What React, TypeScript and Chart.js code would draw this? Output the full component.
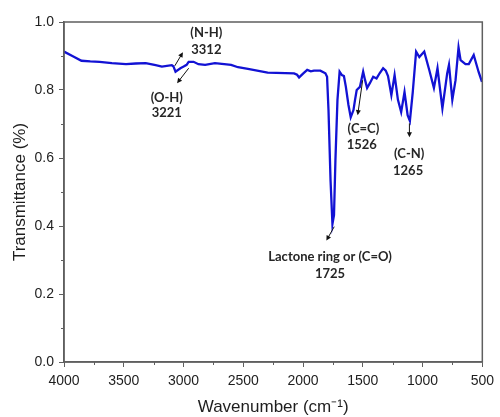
import { useEffect, useRef } from "react";
import { Chart, registerables } from "chart.js";

Chart.register(...registerables);

const wavenumbers = [
  4000, 3930, 3854, 3780, 3702, 3600, 3481, 3400, 3316, 3233, 3181, 3098, 3085, 3067, 3026, 2999,
  2974, 2957, 2916, 2875, 2819, 2737, 2602, 2544, 2461, 2296, 2075, 2050, 2033, 2000, 1965, 1935,
  1909, 1855, 1813, 1799, 1787, 1770, 1754, 1741, 1729, 1712, 1694, 1675, 1658, 1642, 1620, 1601,
  1578, 1565, 1551, 1524, 1497, 1481, 1464, 1441, 1413, 1385, 1358, 1330, 1308, 1289, 1261, 1234,
  1206, 1179, 1151, 1125, 1106, 1082, 1054, 1027, 986, 944, 905, 875, 834, 794, 779, 751,
  724, 699, 682, 641, 613, 572, 531, 503,
];

const transmittance = [
  0.913, 0.9, 0.886, 0.884, 0.883, 0.879, 0.876, 0.878, 0.879, 0.873, 0.869, 0.873, 0.87, 0.854, 0.864, 0.869,
  0.874, 0.883, 0.883, 0.876, 0.874, 0.879, 0.874, 0.867, 0.862, 0.851, 0.849, 0.845, 0.837, 0.848, 0.859, 0.855,
  0.857, 0.857, 0.849, 0.839, 0.741, 0.535, 0.406, 0.432, 0.594, 0.771, 0.854, 0.844, 0.841, 0.81, 0.756, 0.72,
  0.741, 0.771, 0.8, 0.809, 0.854, 0.829, 0.806, 0.82, 0.839, 0.834, 0.85, 0.864, 0.857, 0.841, 0.785, 0.844,
  0.771, 0.735, 0.794, 0.726, 0.709, 0.794, 0.913, 0.897, 0.913, 0.859, 0.806, 0.864, 0.746, 0.849, 0.874, 0.771,
  0.829, 0.925, 0.888, 0.876, 0.876, 0.903, 0.853, 0.824,
];

const xTicks = [4000, 3500, 3000, 2500, 2000, 1500, 1000, 500];
const xMinorTicks = [3750, 3250, 2750, 2250, 1750, 1250, 750];
const yTicks = [0, 0.2, 0.4, 0.6, 0.8, 1.0];
const yMinorTicks = [0.1, 0.3, 0.5, 0.7, 0.9];

// annotation text lines: [text, wavenumber, transmittance]
const noteTexts: [string, number, number][] = [
  ["(N-H)", 2809, 0.968],
  ["3312", 2809, 0.918],
  ["(O-H)", 3140, 0.776],
  ["3221", 3140, 0.732],
  ["Lactone ring or (C=O)", 1774, 0.309],
  ["1725", 1774, 0.259],
  ["(C=C)", 1495, 0.687],
  ["1526", 1509, 0.638],
  ["(C-N)", 1112, 0.612],
  ["1265", 1121, 0.563],
];

// arrows: [fromWn, fromT, toWn, toT]
const noteArrows: [number, number, number, number][] = [
  [3073, 0.871, 3005, 0.911],
  [2957, 0.864, 3054, 0.82],
  [1739, 0.398, 1805, 0.357],
  [1501, 0.829, 1543, 0.726],
  [1110, 0.702, 1110, 0.661],
];

const AXIS = "#5f5f5f";
const TEXT = "#1e1e1e";

const extrasPlugin = {
  id: "extras",
  afterDraw(chart: any) {
    const { ctx, chartArea: a, scales } = chart;
    const x = scales.x;
    const y = scales.y;
    ctx.save();
    ctx.strokeStyle = AXIS;
    ctx.lineWidth = 1.5;
    ctx.strokeRect(a.left, a.top, a.right - a.left, a.bottom - a.top);
    ctx.lineWidth = 1;
    ctx.beginPath();
    for (const v of xMinorTicks) {
      const px = Math.round(x.getPixelForValue(v)) + 0.5;
      ctx.moveTo(px, a.bottom);
      ctx.lineTo(px, a.bottom + 3);
    }
    for (const v of yMinorTicks) {
      const py = Math.round(y.getPixelForValue(v)) + 0.5;
      ctx.moveTo(a.left - 3, py);
      ctx.lineTo(a.left, py);
    }
    ctx.stroke();

    ctx.fillStyle = "#262626";
    ctx.font = "bold 13px Lato, 'Open Sans', sans-serif";
    ctx.textAlign = "center";
    ctx.textBaseline = "middle";
    for (const [t, wn, tr] of noteTexts) {
      ctx.fillText(t, x.getPixelForValue(wn), y.getPixelForValue(tr));
    }

    ctx.strokeStyle = "#111";
    ctx.fillStyle = "#111";
    ctx.lineWidth = 1;
    for (const [w1, t1, w2, t2] of noteArrows) {
      const x1 = x.getPixelForValue(w1);
      const y1 = y.getPixelForValue(t1);
      const x2 = x.getPixelForValue(w2);
      const y2 = y.getPixelForValue(t2);
      const ang = Math.atan2(y2 - y1, x2 - x1);
      const hl = 5;
      const hw = 2.5;
      ctx.beginPath();
      ctx.moveTo(x1, y1);
      ctx.lineTo(x2 - Math.cos(ang) * hl * 0.8, y2 - Math.sin(ang) * hl * 0.8);
      ctx.stroke();
      ctx.beginPath();
      ctx.moveTo(x2, y2);
      ctx.lineTo(
        x2 - Math.cos(ang) * hl + Math.sin(ang) * hw,
        y2 - Math.sin(ang) * hl - Math.cos(ang) * hw
      );
      ctx.lineTo(
        x2 - Math.cos(ang) * hl - Math.sin(ang) * hw,
        y2 - Math.sin(ang) * hl + Math.cos(ang) * hw
      );
      ctx.closePath();
      ctx.fill();
    }
    ctx.restore();
  },
};

export default function App() {
  const ref = useRef<HTMLCanvasElement | null>(null);

  useEffect(() => {
    if (!ref.current) return;
    const points = wavenumbers.map((w, i) => ({ x: w, y: transmittance[i] }));
    const chart = new Chart(ref.current, {
      type: "line",
      data: {
        datasets: [
          {
            data: points,
            borderColor: "#1212d4",
            borderWidth: 2.3,
            pointRadius: 0,
            tension: 0,
            fill: false,
          },
        ],
      },
      plugins: [extrasPlugin],
      options: {
        animation: false,
        responsive: false,
        maintainAspectRatio: false,
        layout: { padding: { top: 22, right: 13, left: 0, bottom: 0 } },
        plugins: { legend: { display: false }, tooltip: { enabled: false } },
        scales: {
          x: {
            type: "linear",
            min: 500,
            max: 4000,
            reverse: true,
            afterBuildTicks: (s: any) => {
              s.ticks = xTicks.map((v) => ({ value: v }));
            },
            afterFit: (s: any) => {
              s.height = 55;
            },
            ticks: {
              color: TEXT,
              font: { family: "'Liberation Sans', Arial, sans-serif", size: 14 },
              padding: 6,
              maxRotation: 0,
              autoSkip: false,
              callback: (v: any) => String(v),
            },
            grid: { drawOnChartArea: false, tickLength: 5, color: AXIS, tickColor: AXIS },
            border: { color: AXIS, width: 1.5 },
            title: {
              display: true,
              text: "Wavenumber (cm\u207B\u00B9)",
              color: TEXT,
              font: { family: "'Liberation Sans', Arial, sans-serif", size: 17 },
              padding: { top: 0, bottom: -1 },
            },
          },
          y: {
            type: "linear",
            min: 0,
            max: 1,
            afterBuildTicks: (s: any) => {
              s.ticks = yTicks.map((v) => ({ value: v }));
            },
            afterFit: (s: any) => {
              s.width = 64;
            },
            ticks: {
              color: TEXT,
              font: { family: "'Liberation Sans', Arial, sans-serif", size: 14 },
              padding: 5,
              autoSkip: false,
              callback: (v: any) => Number(v).toFixed(1),
            },
            grid: { drawOnChartArea: false, tickLength: 5, color: AXIS, tickColor: AXIS },
            border: { color: AXIS, width: 1.5 },
            title: {
              display: true,
              text: "Transmittance (%)",
              color: TEXT,
              font: { family: "'Liberation Sans', Arial, sans-serif", size: 17 },
              padding: { top: 10, bottom: 0 },
            },
          },
        },
      },
    });
    return () => chart.destroy();
  }, []);

  return (
    <div style={{ position: "fixed", left: 0, top: 0, width: 500, height: 417, background: "#fff" }}>
      <canvas ref={ref} width={500} height={417} style={{ width: 500, height: 417 }} />
    </div>
  );
}
